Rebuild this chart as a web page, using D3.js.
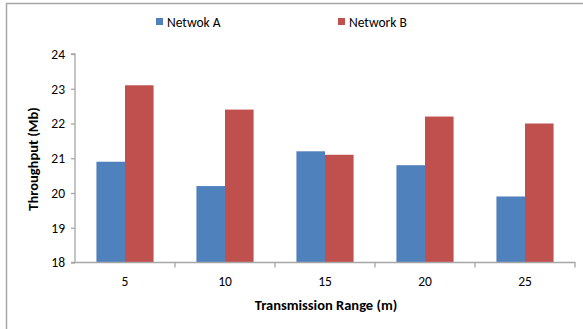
<!DOCTYPE html>
<html><head><meta charset="utf-8">
<script src="https://cdn.jsdelivr.net/npm/d3@7"></script>
<style>body{margin:0;background:#fff}svg{display:block}text{font-family:Carlito,Lato,"Open Sans",sans-serif;fill:#000}</style>
</head><body><svg id="c" width="583" height="329"></svg>
<script>
const categories = ["5","10","15","20","25"];
const seriesNames = ["Netwok A","Network B"];
const networkA = [20.9, 20.2, 21.2, 20.8, 19.9];
const networkB = [23.1, 22.4, 21.1, 22.2, 22.0];
const yTicks = [18,19,20,21,22,23,24];
const colors = ["#4F81BD","#C0504D"];

const svg = d3.select("#c");
// outer frame
svg.append("path").attr("d","M6.5,329 V3.5 H583").attr("fill","none").attr("stroke","#a6a6a6").attr("stroke-width",1.5);

const L=75, R=575, T=54, B=262.5;
const x = d3.scaleBand().domain(categories).range([L,R]).paddingInner(0).paddingOuter(0);
const y = d3.scaleLinear().domain([18,24]).range([B,T]);
const bw = x.bandwidth()/(2+1.5);

const data = categories.map((c,i)=>({c, v:[networkA[i], networkB[i]]}));
const g = svg.append("g");
data.forEach(d=>{
  d.v.forEach((v,j)=>{
    const x0 = x(d.c) + x.bandwidth()/2 - bw + j*bw;
    g.append("rect").attr("x",x0).attr("y",y(v)).attr("width",bw).attr("height",y(18)-y(v)).attr("fill",colors[j]);
  });
});

// y axis
const ya = svg.append("g").attr("transform",`translate(${L},0)`).call(d3.axisLeft(y).tickValues(yTicks).tickSize(4).tickPadding(6).tickFormat(d3.format("d")));
ya.select(".domain").attr("stroke","#a6a6a6").attr("stroke-width",1.3).attr("d",`M-4,${T}H0V${B}`);
ya.selectAll(".tick line").attr("stroke","#a6a6a6").attr("stroke-width",1.3);
ya.selectAll(".tick text").attr("font-size",13.5).attr("fill","#000").style("font-family","Carlito,Lato,sans-serif");

// x axis
const xa = svg.append("g").attr("transform",`translate(0,${B})`).call(d3.axisBottom(x).tickSize(0).tickPadding(14));
xa.select(".domain").attr("stroke","#a6a6a6").attr("stroke-width",1.3).attr("d",`M${L-4},0H${R}V5`);
xa.selectAll(".tick text").attr("font-size",13.5).attr("fill","#000").style("font-family","Carlito,Lato,sans-serif");
categories.slice(1).forEach(c=>{
  svg.append("line").attr("x1",x(c)).attr("x2",x(c)).attr("y1",B).attr("y2",B+5).attr("stroke","#a6a6a6").attr("stroke-width",1.3);
});

// axis titles
svg.append("text").attr("transform","translate(38,159) rotate(-90)").attr("text-anchor","middle").attr("font-size",14.5).attr("font-weight","bold").text("Throughput (Mb)");
svg.append("text").attr("x",326).attr("y",310).attr("text-anchor","middle").attr("font-size",14.5).attr("font-weight","bold").text("Transmission Range (m)");

// legend
const legX = [156, 338];
seriesNames.forEach((n,i)=>{
  svg.append("rect").attr("x",legX[i]).attr("y",18).attr("width",7).attr("height",7).attr("fill",colors[i]);
  svg.append("text").attr("x",legX[i]+11).attr("y",26.5).attr("font-size",13.5).text(n);
});
</script></body></html>
